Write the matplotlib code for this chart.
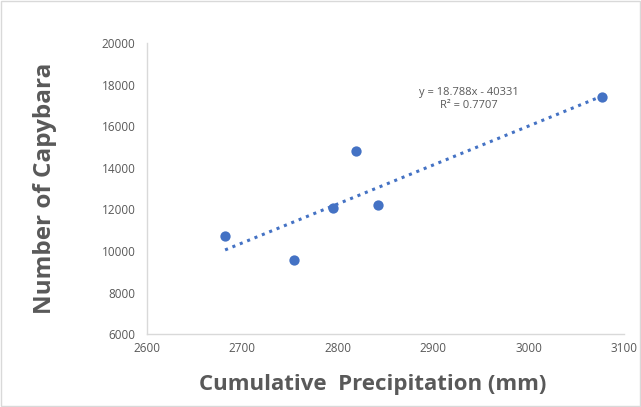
import numpy as np
import matplotlib.pyplot as plt
from matplotlib.patches import Rectangle

# values
precip = [2682, 2754, 2795, 2819, 2842, 3077]
capybara = [10700, 9560, 12090, 14810, 12190, 17410]
x_ticks = [2600, 2700, 2800, 2900, 3000, 3100]
y_ticks = [6000, 8000, 10000, 12000, 14000, 16000, 18000, 20000]
eq_label = "y = 18.788x - 40331\nR² = 0.7707"

blue = "#4472C4"
grey = "#595959"
plt.rcParams['font.family'] = ['Open Sans', 'DejaVu Sans']

fig = plt.figure(figsize=(6.41, 4.07), dpi=100)
ax = fig.add_axes([0.229, 0.179, 0.745, 0.715])

# linear trendline over the data range
slope, icpt = np.polyfit(precip, capybara, 1)
xs = np.array([min(precip), max(precip)])
ax.plot(xs, slope * xs + icpt, color=blue, linestyle=(0, (1, 1.6)), linewidth=2.2, zorder=2)
ax.scatter(precip, capybara, s=55, color=blue, zorder=3, linewidths=0)

ax.text(2937, 17300, eq_label, ha='center', va='center', multialignment='center',
        fontsize=8, color=grey)

ax.set_xlim(2600, 3100)
ax.set_ylim(6000, 20000)
ax.set_xticks(x_ticks)
ax.set_yticks(y_ticks)
ax.tick_params(length=0, labelsize=8.5, labelcolor=grey)
ax.tick_params(axis='y', pad=8)
ax.tick_params(axis='x', pad=6)

for s in ['top', 'right']:
    ax.spines[s].set_visible(False)
for s in ['left', 'bottom']:
    ax.spines[s].set_color('#d9d9d9')
    ax.spines[s].set_linewidth(1)

ax.set_xlabel("Cumulative  Precipitation (mm)", fontsize=16, fontweight='bold', color=grey,
              labelpad=13, x=0.472)
ax.set_ylabel("Number of Capybara", fontsize=17.5, fontweight='bold', color=grey, labelpad=32)

# chart area border
fig.patches.append(Rectangle((0.002, 0.002), 0.996, 0.996, transform=fig.transFigure,
                             fill=False, edgecolor='#d9d9d9', linewidth=1))

fig.savefig("out.png", dpi=100)
